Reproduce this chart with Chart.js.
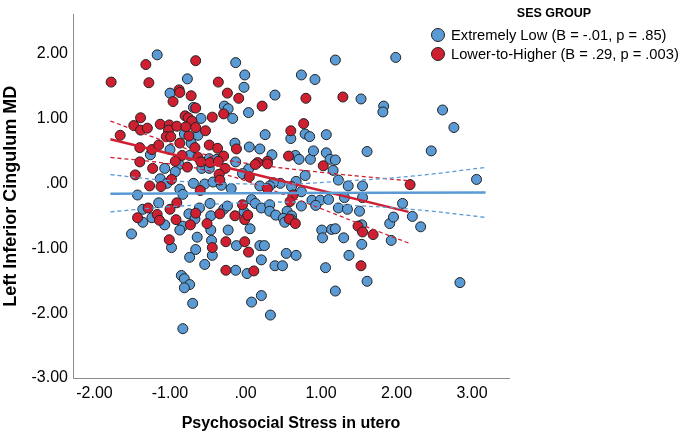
<!DOCTYPE html>
<html lang="en">
<head>
<meta charset="UTF-8">
<title>Left Inferior Cingulum MD by psychosocial stress</title>
<script src="https://cdn.jsdelivr.net/npm/chart.js"></script>
<style>
  html, body { margin: 0; padding: 0; background: #fff; }
  #wrap { width: 681px; height: 435px; position: relative; }
</style>
</head>
<body>
<div id="wrap"><canvas id="chart"></canvas></div>
<script>
// --- data ---
var xTicks = [-2, -1, 0, 1, 2, 3];
var yTicks = [-3, -2, -1, 0, 1, 2];

// Extremely Low SES group  [stress, MD]
var extremelyLow = [
  [-1.17,1.98],[-0.13,1.86],[-0.77,1.61],[-0.01,1.67],[-0.02,1.48],[-1.00,1.39],[-0.28,1.19],[-0.23,1.15],
  [-0.69,1.17],[-0.17,1.00],[0.04,1.09],[-0.59,1.00],[-0.81,0.76],[-0.63,0.74],[-0.72,0.62],[-0.14,0.62],
  [0.05,0.56],[-1.26,0.44],[-1.00,0.52],[-0.74,0.43],[-0.48,0.38],[-0.38,0.37],[-0.13,0.33],[-0.88,0.29],
  [-1.07,0.23],[-0.58,0.23],[-0.48,0.23],[0.04,0.22],[-0.93,0.18],[-1.13,0.07],[-1.04,0.00],[-1.43,-0.18],
  [-0.87,-0.09],[-0.83,-0.17],[-0.69,0.00],[-0.54,-0.01],[-0.43,0.02],[-0.32,-0.03],[-0.19,-0.08],[-0.04,0.15],
  [-1.15,-0.30],[-1.36,-0.40],[-1.36,-0.60],[-1.24,-0.53],[-1.07,-0.64],[-0.83,-0.66],[-0.87,-0.72],[-0.75,-0.47],
  [-0.67,-0.55],[-0.61,-0.38],[-0.47,-0.31],[-0.46,-0.50],[-0.46,-0.72],[-0.29,-0.40],[-0.24,-0.35],[-0.02,-0.44],
  [-0.23,-0.72],[-1.51,-0.78],[-0.98,-0.99],[-0.64,-0.83],[-0.66,-1.02],[-0.45,-0.88],[-0.44,-1.11],[-0.12,-0.96],
  [-0.74,-1.14],[-0.54,-1.25],[-0.13,-1.34],[0.02,-1.39],[-0.85,-1.42],[-0.81,-1.47],[-0.74,-1.56],[-0.81,-1.61],
  [-0.70,-1.85],[-0.83,-2.24],[0.06,-0.70],[0.08,-0.25],[0.13,-0.31],[0.21,-0.38],[0.32,-0.33],[0.32,-0.43],
  [0.40,-0.49],[0.55,-0.43],[0.61,-0.50],[0.50,-0.54],[0.52,-0.60],[0.61,-0.56],[0.19,-0.96],[0.25,-0.96],
  [0.54,-1.08],[0.67,-1.11],[0.21,-1.18],[0.39,-1.27],[0.49,-1.27],[0.08,-1.83],[0.21,-1.73],[0.33,-2.03],
  [0.26,0.75],[0.60,0.69],[0.79,0.76],[0.85,0.72],[1.07,0.75],[0.19,0.53],[0.35,0.44],[0.66,0.43],
  [0.71,0.37],[0.86,0.37],[0.90,0.50],[1.07,0.47],[1.12,0.37],[1.19,0.36],[1.61,0.49],[1.16,0.20],
  [0.79,0.12],[1.23,0.05],[1.36,-0.04],[1.55,-0.04],[0.67,0.03],[0.46,0.00],[0.37,0.01],[0.32,-0.04],
  [0.61,-0.05],[0.19,-0.04],[0.74,-0.13],[0.88,-0.26],[0.99,-0.26],[1.10,-0.25],[1.31,-0.22],[1.55,-0.22],
  [0.74,-0.35],[0.93,-0.34],[1.23,-0.38],[1.35,-0.40],[1.51,-0.43],[1.01,-0.72],[1.02,-0.84],[1.14,-0.71],
  [1.19,-0.70],[1.30,-0.84],[1.54,-0.64],[1.54,-0.94],[1.37,-1.11],[1.06,-1.30],[1.19,-1.66],[1.61,-1.51],
  [2.84,-1.53],[1.91,-0.62],[1.96,-0.52],[1.93,-0.88],[2.08,-0.31],[2.21,-0.51],[2.32,-0.67],[3.06,0.06],
  [2.46,0.50],[2.76,0.86],[2.61,1.13],[1.83,1.19],[1.82,1.10],[1.53,1.30],[1.99,1.94],[1.19,1.90],
  [0.74,1.67],[0.92,1.60],[0.39,1.36]
];

// Lower-to-Higher SES group  [stress, MD]
var lowerToHigher = [
  [-1.78,1.56],[-1.32,1.83],[-1.28,1.55],[-0.66,1.89],[-0.36,1.56],[-0.88,1.44],[-0.87,1.40],[-0.72,1.35],
  [-0.24,1.39],[-0.96,1.26],[-0.09,1.31],[-0.66,1.16],[-0.29,1.07],[-1.39,1.01],[-0.80,1.04],[-0.76,1.01],
  [-0.71,0.96],[-0.44,1.02],[-1.48,0.89],[-1.39,0.82],[-1.30,0.85],[-1.13,0.91],[-1.01,0.90],[-1.02,0.82],
  [-0.91,0.88],[-0.79,0.87],[-0.66,0.86],[-0.53,0.81],[-1.66,0.74],[-1.05,0.72],[-0.99,0.72],[-0.75,0.73],
  [-0.87,0.62],[-0.67,0.55],[-0.48,0.59],[-0.37,0.54],[-0.12,0.53],[-1.40,0.55],[-1.24,0.52],[-1.15,0.59],
  [-0.84,0.43],[-0.63,0.40],[-0.29,0.42],[-1.40,0.33],[-0.93,0.34],[-0.59,0.33],[-0.47,0.32],[-0.36,0.34],
  [-1.23,0.23],[-0.77,0.25],[-0.27,0.23],[-1.46,0.13],[-0.35,0.14],[-1.27,-0.04],[-1.12,-0.05],[-0.98,0.06],
  [-0.60,-0.11],[-0.34,0.05],[-0.91,-0.30],[-1.29,-0.38],[-1.43,-0.53],[-1.17,-0.48],[-1.14,-0.57],[-1.00,-0.40],
  [-0.92,-0.56],[-0.73,-0.64],[-0.66,-0.46],[-0.51,-0.62],[-0.34,-0.47],[-0.14,-0.50],[-0.01,-0.56],[0.03,-0.49],
  [-1.01,-0.87],[-0.44,-0.99],[-0.26,-0.90],[-0.01,-0.90],[0.04,-1.06],[-0.26,-1.34],[0.11,-1.35],[0.22,1.19],
  [0.80,1.31],[1.29,1.33],[0.77,0.92],[0.60,0.81],[0.57,0.42],[0.16,0.32],[0.13,0.29],[0.29,0.34],
  [0.29,0.30],[1.03,0.27],[0.05,0.10],[0.29,-0.08],[0.63,-0.18],[0.59,-0.28],[-0.04,-0.33],[0.58,-0.55],
  [0.66,-0.62],[1.49,-0.66],[1.55,-0.75],[1.69,-0.79],[1.53,-1.27],[2.18,-0.02]
];

// fit lines and 95% CI bands, read at a few x positions
var lowFitX = [-1.79, 3.18];
var lowFitY = [-0.16, -0.14];
var lowCiX = [-1.79, -1.0, 0.0, 0.6, 1.25, 2.2, 3.18];
var lowCiUpper = [0.135, 0.04, -0.01, -0.01, 0.03, 0.11, 0.245];
var lowCiLower = [-0.44, -0.36, -0.30, -0.29, -0.33, -0.40, -0.525];

var highFitX = [-1.79, 2.16];
var highFitY = [0.68, -0.44];
var highCiX = [-1.79, -1.0, -0.4, 0.0, 1.0, 1.78, 2.16];
var highCiUpper = [0.96, 0.62, 0.40, 0.31, 0.17, 0.08, 0.04];
var highCiLower = [0.40, 0.30, 0.17, 0.04, -0.39, -0.75, -0.92];

var blue = 'rgb(91,155,213)';
var red = 'rgb(209,31,50)';

function pts(xs, ys) {
  return xs.map(function (x, i) { return { x: x, y: ys[i] }; });
}
function pairs(arr) {
  return arr.map(function (p) { return { x: p[0], y: p[1] }; });
}
function fmt(v) {
  if (v === 0) return '.00';
  return v.toFixed(2);
}

function lineSet(data, color, width, dash) {
  return {
    data: data, showLine: true, pointRadius: 0, borderColor: color,
    borderWidth: width, borderDash: dash || [], tension: 0.4, fill: false, order: 0
  };
}

var legendPlugin = {
  id: 'spssLegend',
  afterDraw: function (chart) {
    var ctx = chart.ctx;
    ctx.save();
    ctx.fillStyle = '#000';
    ctx.font = "bold 12.5px 'Liberation Sans', Arial, sans-serif";
    ctx.textAlign = 'center';
    ctx.textBaseline = 'middle';
    ctx.fillText('SES GROUP', 554, 14);
    var items = [
      { label: 'Extremely Low (B = -.01, p = .85)', color: blue, y: 35 },
      { label: 'Lower-to-Higher (B = .29, p = .003)', color: red, y: 54 }
    ];
    ctx.font = "14.7px 'Liberation Sans', Arial, sans-serif";
    ctx.textAlign = 'left';
    items.forEach(function (it) {
      ctx.beginPath();
      ctx.arc(438, it.y, 6.5, 0, Math.PI * 2);
      ctx.fillStyle = it.color;
      ctx.fill();
      ctx.lineWidth = 1;
      ctx.strokeStyle = '#222';
      ctx.stroke();
      ctx.fillStyle = '#000';
      ctx.fillText(it.label, 451, it.y + 1);
    });
    ctx.restore();
  }
};

Chart.defaults.font.family = "'Liberation Sans', Arial, sans-serif";
Chart.defaults.color = '#000';

var ctx = document.getElementById('chart').getContext('2d');
var chart = new Chart(ctx, {
  type: 'scatter',
  data: {
    datasets: [
      lineSet(pts(lowCiX, lowCiUpper), blue, 1.3, [4, 3]),
      lineSet(pts(lowCiX, lowCiLower), blue, 1.3, [4, 3]),
      lineSet(pts(lowFitX, lowFitY), blue, 2.5),
      lineSet(pts(highCiX, highCiUpper), red, 1.3, [4, 3]),
      lineSet(pts(highCiX, highCiLower), red, 1.3, [4, 3]),
      lineSet(pts(highFitX, highFitY), red, 2.5),
      {
        label: 'Lower-to-Higher',
        data: pairs(lowerToHigher),
        backgroundColor: red, borderColor: '#222', borderWidth: 1,
        pointRadius: 5, order: 1
      },
      {
        label: 'Extremely Low',
        data: pairs(extremelyLow),
        backgroundColor: blue, borderColor: '#222', borderWidth: 1,
        pointRadius: 5, order: 2
      }
    ]
  },
  options: {
    responsive: true,
    maintainAspectRatio: false,
    animation: false,
    layout: { padding: { left: 0, right: 172, top: 2, bottom: 0 } },
    plugins: {
      legend: { display: false },
      tooltip: { enabled: false }
    },
    scales: {
      x: {
        min: -2.285, max: 3.49,
        grid: { display: false, drawTicks: false },
        border: { display: true, color: '#8c8c8c', width: 1 },
        afterFit: function (s) { s.height = 57; },
        afterBuildTicks: function (s) { s.ticks = xTicks.map(function (v) { return { value: v }; }); },
        ticks: { font: { size: 16 }, padding: 6, maxRotation: 0, callback: fmt },
        title: {
          display: true, text: 'Psychosocial Stress in utero',
          font: { size: 16, weight: 'bold' }, padding: { top: 0, bottom: 2 }
        }
      },
      y: {
        min: -3, max: 2.6,
        grid: { display: false, drawTicks: false },
        border: { display: true, color: '#8c8c8c', width: 1 },
        afterFit: function (s) { s.width = 73; },
        afterBuildTicks: function (s) { s.ticks = yTicks.map(function (v) { return { value: v }; }); },
        ticks: { font: { size: 16 }, padding: 5, callback: fmt },
        title: {
          display: true, text: 'Left Inferior Cingulum MD',
          font: { size: 18, weight: 'bold' }, padding: { top: 0, bottom: 0 }
        }
      }
    }
  },
  plugins: [legendPlugin]
});
</script>
</body>
</html>
